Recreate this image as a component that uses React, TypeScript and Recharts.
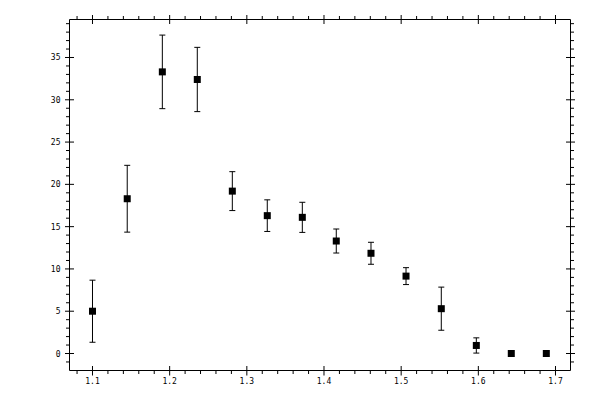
import React from 'react';
import { ScatterChart, Scatter, XAxis, YAxis, ErrorBar } from 'recharts';

// Data
const xValues = [1.1, 1.145, 1.1905, 1.2358, 1.2812, 1.3265, 1.3719, 1.4159, 1.4609, 1.5063, 1.552, 1.5974, 1.6427, 1.6881];
const yValues = [5.0, 18.3, 33.3, 32.4, 19.2, 16.3, 16.1, 13.3, 11.85, 9.15, 5.3, 0.95, 0, 0];
const yErrors = [3.67, 3.95, 4.35, 3.8, 2.3, 1.87, 1.78, 1.42, 1.3, 1.0, 2.55, 0.9, 0, 0];

// Axis ticks
const xMajorTicks = [1.1, 1.2, 1.3, 1.4, 1.5, 1.6, 1.7];
const xMajorLabels = ['1.1', '1.2', '1.3', '1.4', '1.5', '1.6', '1.7'];
const yMajorTicks = [0, 5, 10, 15, 20, 25, 30, 35];
const yMajorLabels = ['0', '5', '10', '15', '20', '25', '30', '35'];

const xDomain: [number, number] = [1.0702, 1.71944];
const yDomain: [number, number] = [-2.01, 39.493];

const xAllTicks: number[] = [];
for (let i = 54; i <= 85; i++) xAllTicks.push(Math.round(i * 2) / 100);
const yAllTicks: number[] = [];
for (let i = -1; i <= 39; i++) yAllTicks.push(i);

const data = xValues.map((x, i) => ({ x, y: yValues[i], err: yErrors[i] }));

const FONT = '"DejaVu Sans Mono", monospace';

const majorIdx = (arr: number[], v: number) => arr.findIndex((m) => Math.abs(m - v) < 1e-6);

const BottomTick = (props: any) => {
  const { x, y, payload } = props;
  const i = majorIdx(xMajorTicks, payload.value);
  if (i < 0) return <line x1={x} y1={y} x2={x} y2={y + 3.5} stroke="#000" strokeWidth={1} />;
  return (
    <g>
      <line x1={x} y1={y - 4.5} x2={x} y2={y + 5} stroke="#000" strokeWidth={1} />
      <text x={x} y={y + 13.5} textAnchor="middle" fontFamily={FONT} fontSize={8} fill="#000">
        {xMajorLabels[i]}
      </text>
    </g>
  );
};

const TopTick = (props: any) => {
  const { x, y, payload } = props;
  const i = majorIdx(xMajorTicks, payload.value);
  if (i < 0) return <line x1={x} y1={y - 3.5} x2={x} y2={y} stroke="#000" strokeWidth={1} />;
  return <line x1={x} y1={y - 4.5} x2={x} y2={y + 4.5} stroke="#000" strokeWidth={1} />;
};

const LeftTick = (props: any) => {
  const { x, y, payload } = props;
  const i = majorIdx(yMajorTicks, payload.value);
  if (i < 0) return <line x1={x - 3.5} y1={y} x2={x} y2={y} stroke="#000" strokeWidth={1} />;
  return (
    <g>
      <line x1={x - 4.5} y1={y} x2={x + 4.5} y2={y} stroke="#000" strokeWidth={1} />
      <text x={x - 9} y={y + 3} textAnchor="end" fontFamily={FONT} fontSize={8} fill="#000">
        {yMajorLabels[i]}
      </text>
    </g>
  );
};

const RightTick = (props: any) => {
  const { x, y, payload } = props;
  const i = majorIdx(yMajorTicks, payload.value);
  if (i < 0) return <line x1={x} y1={y} x2={x + 3.5} y2={y} stroke="#000" strokeWidth={1} />;
  return <line x1={x - 4.5} y1={y} x2={x + 4.5} y2={y} stroke="#000" strokeWidth={1} />;
};

const SquareShape = (props: any) => {
  const { cx, cy } = props;
  return <rect x={cx - 3.5} y={cy - 3.5} width={7} height={7} fill="#000" />;
};

export default function App() {
  return (
    <div style={{ position: 'absolute', left: 0, top: 0, width: 600, height: 400, background: '#fff' }}>
      <ScatterChart width={600} height={400} margin={{ top: 0, right: 0, bottom: 0, left: 0 }}>
        <XAxis
          xAxisId="bottom"
          dataKey="x"
          type="number"
          orientation="bottom"
          domain={xDomain}
          allowDataOverflow
          ticks={xAllTicks}
          interval={0}
          height={29.5}
          tickSize={0}
          tickMargin={0}
          tickLine={false}
          axisLine={{ stroke: '#000', strokeWidth: 1 }}
          tick={BottomTick}
        />
        <XAxis
          xAxisId="top"
          dataKey="x"
          type="number"
          orientation="top"
          domain={xDomain}
          allowDataOverflow
          ticks={xAllTicks}
          interval={0}
          height={19.5}
          tickSize={0}
          tickMargin={0}
          tickLine={false}
          axisLine={{ stroke: '#000', strokeWidth: 1 }}
          tick={TopTick}
        />
        <YAxis
          yAxisId="left"
          dataKey="y"
          type="number"
          orientation="left"
          domain={yDomain}
          allowDataOverflow
          ticks={yAllTicks}
          interval={0}
          width={69.5}
          tickSize={0}
          tickMargin={0}
          tickLine={false}
          axisLine={{ stroke: '#000', strokeWidth: 1 }}
          tick={LeftTick}
        />
        <YAxis
          yAxisId="right"
          dataKey="y"
          type="number"
          orientation="right"
          domain={yDomain}
          allowDataOverflow
          ticks={yAllTicks}
          interval={0}
          width={29.5}
          tickSize={0}
          tickMargin={0}
          tickLine={false}
          axisLine={{ stroke: '#000', strokeWidth: 1 }}
          tick={RightTick}
        />
        <Scatter
          data={data}
          xAxisId="bottom"
          yAxisId="left"
          dataKey="y"
          fill="#000"
          shape={SquareShape}
          isAnimationActive={false}
        >
          <ErrorBar dataKey="err" direction="y" width={3} stroke="#000" strokeWidth={1} isAnimationActive={false} />
        </Scatter>
      </ScatterChart>
    </div>
  );
}
